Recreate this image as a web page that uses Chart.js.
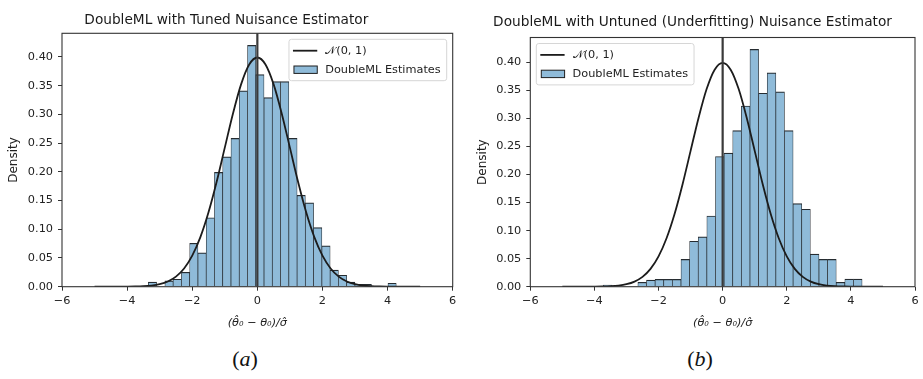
<!DOCTYPE html>
<html>
<head>
<meta charset="utf-8">
<script src="https://cdn.jsdelivr.net/npm/chart.js@4/dist/chart.umd.min.js"></script>
<style>
  html, body { margin: 0; padding: 0; background: #fff; }
  #wrap { position: relative; width: 923px; height: 379px; overflow: hidden; background: #fff; }
  .panel { position: absolute; top: 0; }
  .cap { position: absolute; top: 346px; width: 60px; text-align: center;
         font-family: "Liberation Serif", "Times New Roman", serif; font-size: 22px; color: #111; }
</style>
</head>
<body>
<div id="wrap">
  <div class="panel" style="left:0px"><canvas id="tuned" width="470" height="340"></canvas></div>
  <div class="panel" style="left:470px"><canvas id="untuned" width="453" height="340"></canvas></div>
  <div class="cap" style="left:215px">(<i>a</i>)</div>
  <div class="cap" style="left:670px">(<i>b</i>)</div>
</div>
<script>
// ---- axis ticks ----
const xTicks = [-6, -4, -2, 0, 2, 4, 6];
const yTicks = [0, 0.05, 0.10, 0.15, 0.20, 0.25, 0.30, 0.35, 0.40];

// ---- standard normal density, sampled every 0.25 ----
const normX = [-5, -4.75, -4.5, -4.25, -4, -3.75, -3.5, -3.25, -3, -2.75, -2.5, -2.25, -2, -1.75, -1.5, -1.25, -1, -0.75, -0.5, -0.25,
               0, 0.25, 0.5, 0.75, 1, 1.25, 1.5, 1.75, 2, 2.25, 2.5, 2.75, 3, 3.25, 3.5, 3.75, 4, 4.25, 4.5, 4.75, 5];
const normY = [0.0000015, 0.000005, 0.000016, 0.00005, 0.000134, 0.00035, 0.00087, 0.00203, 0.00443, 0.0091, 0.0175, 0.0317, 0.0540, 0.0863, 0.1295, 0.1826, 0.2420, 0.3011, 0.3521, 0.3867,
               0.3989, 0.3867, 0.3521, 0.3011, 0.2420, 0.1826, 0.1295, 0.0863, 0.0540, 0.0317, 0.0175, 0.0091, 0.00443, 0.00203, 0.00087, 0.00035, 0.000134, 0.00005, 0.000016, 0.000005, 0.0000015];

// true value marker
const vlineX = 0;

// ---- tuned nuisance estimator: histogram (bin centres, density) ----
const tunedCenters = [-3.221, -2.967, -2.713, -2.460, -2.206, -1.952, -1.698, -1.444, -1.191, -0.937,
                      -0.683, -0.429, -0.175, 0.078, 0.332, 0.586, 0.840, 1.094, 1.347, 1.601,
                      1.855, 2.109, 2.363, 2.616, 2.870, 3.124, 3.378, 3.632, 3.885, 4.139];
const tunedDensity = [0.008, 0.000, 0.010, 0.013, 0.025, 0.0755, 0.059, 0.120, 0.199, 0.226,
                      0.258, 0.341, 0.420, 0.369, 0.329, 0.357, 0.357, 0.258, 0.159, 0.146,
                      0.103, 0.071, 0.029, 0.020, 0.008, 0.004, 0.004, 0.000, 0.000, 0.006];

// ---- untuned (underfitting) nuisance estimator ----
const untunedCenters = [-3.586, -3.317, -3.048, -2.779, -2.510, -2.241, -1.972, -1.703, -1.434, -1.165,
                        -0.896, -0.627, -0.358, -0.089, 0.180, 0.449, 0.718, 0.987, 1.256, 1.525,
                        1.794, 2.063, 2.332, 2.601, 2.870, 3.139, 3.408, 3.677, 3.946, 4.215];
const untunedDensity = [0.003, 0.000, 0.000, 0.000, 0.0078, 0.0119, 0.013, 0.013, 0.013, 0.0486,
                        0.081, 0.0887, 0.126, 0.232, 0.238, 0.278, 0.322, 0.4227, 0.3447, 0.381,
                        0.347, 0.278, 0.148, 0.138, 0.058, 0.0486, 0.0486, 0.0078, 0.0137, 0.0137];

const FONT = '"DejaVu Sans", "Liberation Sans", sans-serif';
const INK = '#222';

// four-sided axes frame
const frame = {
  id: 'frame',
  afterDatasetsDraw(chart) {
    const { ctx, chartArea: a } = chart;
    ctx.save();
    ctx.strokeStyle = '#333';
    ctx.lineWidth = 1.1;
    ctx.strokeRect(a.left, a.top, a.right - a.left, a.bottom - a.top);
    ctx.restore();
  }
};

// legend box drawn inside the plotting area
const boxLegend = {
  id: 'boxLegend',
  afterDraw(chart, args, opts) {
    const { ctx, chartArea: a } = chart;
    const items = chart.data.datasets.filter(d => d.legendRank !== undefined)
                                     .sort((p, q) => p.legendRank - q.legendRank);
    ctx.save();
    ctx.font = opts.fontSize + 'px ' + FONT;
    const textW = Math.max(...items.map(d => ctx.measureText(d.label).width));
    const w = 4 + 24.3 + 8 + textW + 6;
    const h = 41.4;
    const x = opts.side === 'right' ? a.right - 6 - w : a.left + 6;
    const y = a.top + 6;
    ctx.beginPath();
    ctx.roundRect(x, y, w, h, 2.5);
    ctx.fillStyle = 'rgba(255,255,255,0.85)';
    ctx.fill();
    ctx.strokeStyle = '#d6d6d6';
    ctx.lineWidth = 1;
    ctx.stroke();
    items.forEach((d, i) => {
      const cy = y + 11.4 + i * 19;
      if (d.type === 'line') {
        ctx.beginPath();
        ctx.moveTo(x + 4, cy);
        ctx.lineTo(x + 28.3, cy);
        ctx.strokeStyle = d.borderColor;
        ctx.lineWidth = d.borderWidth;
        ctx.stroke();
      } else {
        ctx.fillStyle = d.backgroundColor;
        ctx.fillRect(x + 5, cy - 3.7, 23.3, 7.4);
        ctx.strokeStyle = '#1e1e1e';
        ctx.lineWidth = 1;
        ctx.strokeRect(x + 5, cy - 3.7, 23.3, 7.4);
      }
      ctx.fillStyle = INK;
      ctx.textBaseline = 'middle';
      ctx.textAlign = 'left';
      ctx.fillText(d.label, x + 36.3, cy + 0.5);
    });
    ctx.restore();
  }
};

function makePanel(id, p) {
  const bars = p.centers.map((c, i) => ({ x: c, y: p.density[i] }));
  const curve = normX.map((v, i) => ({ x: v, y: normY[i] }));
  return new Chart(document.getElementById(id), {
    type: 'bar',
    data: {
      datasets: [
        {
          type: 'line', label: 'true value', data: [{ x: vlineX, y: 0 }, { x: vlineX, y: p.yMax }],
          borderColor: '#3a3a3a', borderWidth: 2.2, pointRadius: 0, order: 0
        },
        {
          type: 'line', label: '\u{1D4A9}(0, 1)', data: curve, legendRank: 0,
          borderColor: '#1c1c1c', borderWidth: 1.8, pointRadius: 0,
          cubicInterpolationMode: 'monotone', fill: false, order: 1
        },
        {
          type: 'bar', label: 'DoubleML Estimates', data: bars, legendRank: 1,
          backgroundColor: '#8fbbd9', borderColor: '#262c31',
          borderWidth: { top: 1.2, left: 0.7, right: 0.7, bottom: 0 }, borderSkipped: false,
          barPercentage: 1, categoryPercentage: 1, order: 2
        }
      ]
    },
    options: {
      responsive: false,
      animation: false,
      events: [],
      devicePixelRatio: 1,
      layout: { padding: { left: 0, right: p.rightPad, top: 0, bottom: 0 } },
      scales: {
        x: {
          type: 'linear', min: -6, max: 6, offset: false,
          afterBuildTicks: s => { s.ticks = xTicks.map(v => ({ value: v })); },
          afterFit: s => { s.height = 340 - p.bottom; },
          ticks: {
            color: INK, font: { family: FONT, size: 11.3 }, padding: 4, maxRotation: 0,
            callback: v => (v < 0 ? '\u2212' + Math.abs(v) : String(v))
          },
          grid: { display: true, offset: false, drawOnChartArea: false, drawTicks: true, tickLength: 4, color: '#333' },
          border: { display: false },
          title: {
            display: true, text: '(\u03B8\u0302\u2080 \u2212 \u03B8\u2080)/\u03C3\u0302', color: INK,
            font: { family: FONT, size: 11.3, style: 'italic' }, padding: { top: 0, bottom: 10.5 }
          }
        },
        y: {
          min: 0, max: p.yMax,
          afterBuildTicks: s => { s.ticks = yTicks.map(v => ({ value: v })); },
          afterFit: s => { s.width = p.yAxisWidth; },
          ticks: { color: INK, font: { family: FONT, size: 11.3 }, padding: 5, callback: v => v.toFixed(2) },
          grid: { display: true, drawOnChartArea: false, drawTicks: true, tickLength: 4, color: '#333' },
          border: { display: false },
          title: {
            display: true, text: 'Density', color: INK,
            font: { family: FONT, size: 12 }, padding: { top: p.yTitlePad, bottom: 0 }
          }
        }
      },
      plugins: {
        legend: { display: false },
        tooltip: { enabled: false },
        title: {
          display: true, text: p.title, color: '#1a1a1a',
          font: { family: FONT, size: 13.7, weight: 'normal' },
          padding: { top: p.titleTop, bottom: p.titleBottom }
        },
        boxLegend: { side: p.legendSide, fontSize: 11.3 }
      }
    },
    plugins: [frame, boxLegend]
  });
}

makePanel('tuned', {
  title: 'DoubleML with Tuned Nuisance Estimator',
  centers: tunedCenters, density: tunedDensity, yMax: 0.441,
  yAxisWidth: 62, rightPad: 17.3, bottom: 286.7,
  titleTop: 12, titleBottom: 4.86, yTitlePad: 6.8, legendSide: 'right'
});

makePanel('untuned', {
  title: 'DoubleML with Untuned (Underfitting) Nuisance Estimator',
  centers: untunedCenters, density: untunedDensity, yMax: 0.444,
  yAxisWidth: 60.3, rightPad: 8, bottom: 286.7,
  titleTop: 14, titleBottom: 7.06, yTitlePad: 5.3, legendSide: 'left'
});
</script>
</body>
</html>
